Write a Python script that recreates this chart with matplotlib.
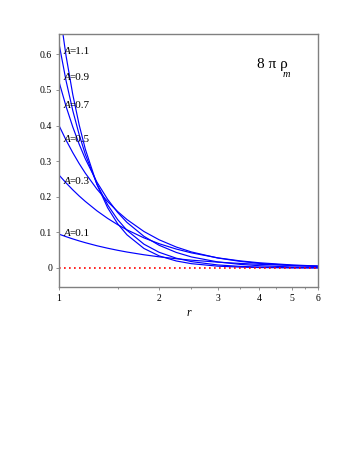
import matplotlib
matplotlib.use("Agg")
import matplotlib.pyplot as plt
from matplotlib.ticker import FixedLocator, NullFormatter

# ---- data ----
r = [1.0, 1.05, 1.1, 1.15, 1.2, 1.3, 1.4, 1.5, 1.6, 1.8, 2.0, 2.25, 2.5, 3.0, 3.5, 4.0, 5.0, 6.0]
rho_A01 = [0.095, 0.0879, 0.0816, 0.0760, 0.0710, 0.0624, 0.0555, 0.0497, 0.0448, 0.0371, 0.0313, 0.0260, 0.0219, 0.0164, 0.0128, 0.0103, 0.0072, 0.0054]
rho_A03 = [0.261, 0.2389, 0.2194, 0.2021, 0.1868, 0.1605, 0.1392, 0.1217, 0.1072, 0.0845, 0.0681, 0.0532, 0.0424, 0.0284, 0.0200, 0.0146, 0.0086, 0.0055]
rho_A05 = [0.400, 0.3591, 0.3238, 0.2930, 0.2661, 0.2215, 0.1865, 0.1586, 0.1361, 0.1024, 0.0791, 0.0589, 0.0450, 0.0280, 0.0186, 0.0129, 0.0069, 0.0041]
rho_A07 = [0.523, 0.4538, 0.3960, 0.3474, 0.3062, 0.2411, 0.1927, 0.1561, 0.1280, 0.0888, 0.0637, 0.0437, 0.0310, 0.0170, 0.0101, 0.0064, 0.0029, 0.0015]
rho_A09 = [0.630, 0.5257, 0.4420, 0.3741, 0.3188, 0.2354, 0.1773, 0.1360, 0.1059, 0.0668, 0.0440, 0.0275, 0.0179, 0.0085, 0.0045, 0.0025, 0.0010, 0.0004]
rho_A11 = [0.735, 0.5956, 0.4870, 0.4014, 0.3334, 0.2345, 0.1691, 0.1244, 0.0932, 0.0548, 0.0339, 0.0197, 0.0121, 0.0051, 0.0025, 0.0013, 0.0004, 0.0002]
series = [rho_A01, rho_A03, rho_A05, rho_A07, rho_A09, rho_A11]

labels = ["=0.1", "=0.3", "=0.5", "=0.7", "=0.9", "=1.1"]
label_y = [0.098, 0.242, 0.360, 0.455, 0.536, 0.607]

x_major = [1, 2, 3, 4, 5, 6]
x_minor = [1.5, 2.5, 3.5, 4.5, 5.5]
y_ticks = [0, 0.1, 0.2, 0.3, 0.4, 0.5, 0.6]
y_tick_labels = ["0", "0.1", "0.2", "0.3", "0.4", "0.5", "0.6"]

serif = ["Liberation Serif", "DejaVu Serif"]

fig = plt.figure(figsize=(3.53, 4.57), dpi=100)
ax = fig.add_axes([59 / 353, (457 - 287) / 457, 259 / 353, 253 / 457])

for s in series:
    ax.plot(r, s, color="#0000ff", lw=0.85)

ax.plot([r[0], r[-1]], [0, 0], color="red", lw=1.2, ls=(0, (1, 2)))

ax.set_xscale("log")
ax.set_xlim(1, 6)
ax.set_ylim(-0.0534, 0.657)

ax.xaxis.set_major_locator(FixedLocator(x_major))
ax.xaxis.set_minor_locator(FixedLocator(x_minor))
ax.xaxis.set_minor_formatter(NullFormatter())
ax.set_xticklabels([str(v) for v in x_major], fontfamily=serif, fontsize=7)
ax.set_yticks(y_ticks)
ax.set_yticklabels(y_tick_labels, fontfamily=serif, fontsize=7)
ax.tick_params(axis="both", which="major", direction="out", length=2, width=0.6, color="#808080", pad=3)
ax.tick_params(axis="x", which="minor", direction="out", length=1.5, width=0.6, color="#808080")

for sp in ax.spines.values():
    sp.set_color("#808080")
    sp.set_linewidth(1.0)

for lab, yy in zip(labels, label_y):
    ax.text(1.035, yy, "A", fontfamily=serif, style="italic", fontsize=8, va="center", ha="left")
    ax.text(1.078, yy, lab, fontfamily=serif, fontsize=8, va="center", ha="left")

ax.set_xlabel("r", fontfamily=serif, style="italic", fontsize=8.5, labelpad=3)

ax.text(0.765, 0.88, "8 π ρ", transform=ax.transAxes, fontfamily=serif, fontsize=11, va="center", ha="left")
ax.text(0.865, 0.84, "m", transform=ax.transAxes, fontfamily=serif, style="italic", fontsize=7.5, va="center", ha="left")

fig.savefig("out.png", dpi=100)
